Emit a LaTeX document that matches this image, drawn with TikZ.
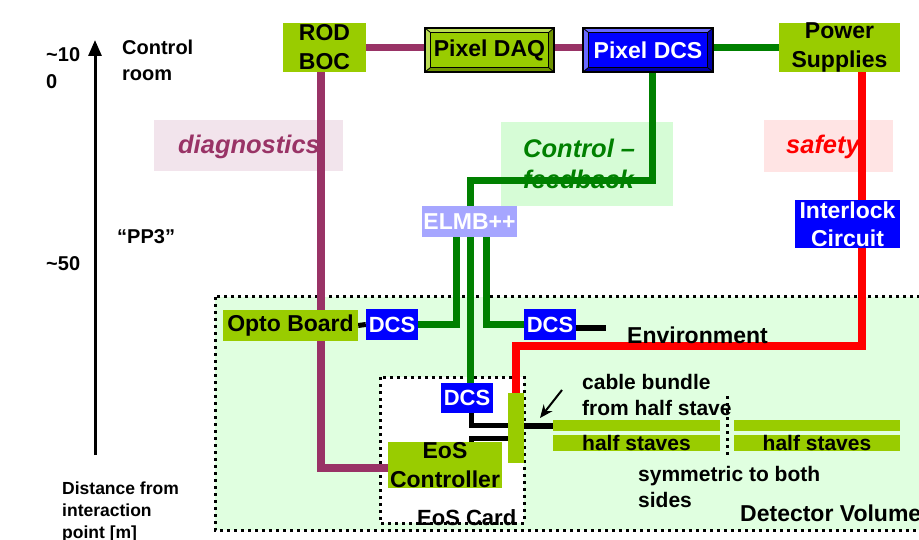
\documentclass[tikz,border=0pt]{standalone}
\usepackage{fontspec}
\setmainfont{Liberation Sans}
\usetikzlibrary{arrows.meta,calc}
\definecolor{boxgreen}{HTML}{99CC00}
\definecolor{dblue}{HTML}{0000FF}
\definecolor{purp}{HTML}{993366}
\definecolor{lgreen}{HTML}{008000}
\definecolor{volbg}{HTML}{E0FFE0}
\definecolor{ctrlbg}{HTML}{D6FCD6}
\definecolor{diagbg}{HTML}{F2E4EC}
\definecolor{safebg}{HTML}{FFE4E4}
\definecolor{elmbc}{HTML}{A6A6FF}
\definecolor{daqlight}{HTML}{BCDD55}
\definecolor{daqdark}{HTML}{6F9400}
\definecolor{dcslight}{HTML}{6A6AFF}
\definecolor{dcsdark}{HTML}{0000A8}
\newcommand\myfs[2]{\fontsize{#1}{#2}\selectfont\bfseries}
\newcommand\bevelbox[4]{%
  \fill[#2] (#1.north west) rectangle (#1.south east);
  \fill[#3] (#1.north west) -- (#1.south west) -- ([shift={(6pt,5pt)}]#1.south west) -- ([shift={(6pt,-5pt)}]#1.north west) -- cycle;
  \fill[#3] (#1.north west) -- (#1.north east) -- ([shift={(-6pt,-5pt)}]#1.north east) -- ([shift={(6pt,-5pt)}]#1.north west) -- cycle;
  \fill[#4] (#1.south west) -- (#1.south east) -- ([shift={(-6pt,5pt)}]#1.south east) -- ([shift={(6pt,5pt)}]#1.south west) -- cycle;
  \fill[#4] (#1.north east) -- (#1.south east) -- ([shift={(-6pt,5pt)}]#1.south east) -- ([shift={(-6pt,-5pt)}]#1.north east) -- cycle;
  \draw[line width=0.8pt,fill=#2] ([shift={(6pt,-5pt)}]#1.north west) rectangle ([shift={(-6pt,5pt)}]#1.south east);
  \draw[line width=0.8pt] (#1.north west) -- ([shift={(6pt,-5pt)}]#1.north west)
    (#1.north east) -- ([shift={(-6pt,-5pt)}]#1.north east)
    (#1.south west) -- ([shift={(6pt,5pt)}]#1.south west)
    (#1.south east) -- ([shift={(-6pt,5pt)}]#1.south east);
  \draw[line width=2pt] (#1.north west) rectangle (#1.south east);
}
\pgfdeclarelayer{bg}
\pgfdeclarelayer{lines}
\pgfsetlayers{bg,lines,main}
\begin{document}
\begin{tikzpicture}[x=1pt,y=-1pt,
  gbox/.style={fill=boxgreen,inner sep=0pt,align=center,text=black,font=\myfs{23}{29}},
  plainbox/.style={inner sep=0pt,align=center,font=\myfs{23}{29}},
  bbox/.style={fill=dblue,inner sep=0pt,align=center,text=white,font=\myfs{23}{28}},
  dcsbox/.style={fill=dblue,inner sep=0pt,text=white,font=\myfs{22}{26},minimum width=52pt,minimum height=31pt},
  lbl/.style={inner sep=0pt,align=center,font=\myfs{25.5}{31}\itshape},
  txt/.style={inner sep=0pt,align=left,font=\myfs{21}{26}},
  bar/.style={fill=boxgreen,inner sep=0pt,font=\myfs{21}{26}},
  pline/.style={draw=purp,line width=7.5pt},
  gline/.style={draw=lgreen,line width=7pt},
  rline/.style={draw=red,line width=8pt},
  kline/.style={draw=black,line width=5pt},
  dotbox/.style={draw=black,line width=3pt,dash pattern=on 3pt off 4pt}]
\useasboundingbox (0,0) rectangle (919,540);

% ---------- main boxes ----------
\node[gbox,minimum width=83pt,minimum height=49pt] (rod) at (324.5,47.5) {ROD\\BOC};
\node[plainbox,text=black,minimum width=129pt,minimum height=44pt] (daq) at (489.5,50) {Pixel DAQ};
\node[plainbox,text=white,minimum width=130pt,minimum height=44pt] (pdcs) at (648,50) {Pixel DCS};
\node[gbox,minimum width=121pt,minimum height=49pt] (power) at (839.5,47.5) {Power\\Supplies};
\node[bbox,minimum width=105pt,minimum height=48pt] (ilock) at (847.5,224) {Interlock\\Circuit};
\node[fill=elmbc,inner sep=0pt,text=white,font=\myfs{23}{28},minimum width=95pt,minimum height=31pt] (elmb) at (469.5,221.5) {ELMB++};
\node[gbox,minimum width=135pt,minimum height=31pt] (opto) at (290.5,325.5) {Opto Board};
\node[dcsbox] (dcsa) at (392,324.5) {DCS};
\node[dcsbox] (dcsb) at (550,324.5) {DCS};
\node[dcsbox,minimum height=30pt] (dcsc) at (467,398) {DCS};
\node[fill=boxgreen,inner sep=0pt,minimum width=16pt,minimum height=70pt] (blk) at (516,428) {};
\node[gbox,minimum width=114pt,minimum height=44pt] (eosc) at (445,465) {EoS\\Controller};
\node[bar,minimum width=167pt,minimum height=11pt] (s1) at (636.5,425.5) {};
\node[bar,minimum width=167pt,minimum height=12pt] (s2) at (636.5,443) {half staves};
\node[bar,minimum width=166pt,minimum height=11pt] (s3) at (817,425.5) {};
\node[bar,minimum width=166pt,minimum height=12pt] (s4) at (817,443) {half staves};

% ---------- free texts ----------
\node[inner sep=0pt,anchor=north west,align=left,font=\myfs{20}{27}] (t100) at (46,47) {\textasciitilde10\\0};
\node[inner sep=0pt,anchor=north west,align=left,font=\myfs{20}{26}] (tcr) at (122,40) {Control\\room};
\node[inner sep=0pt,anchor=west,font=\myfs{20}{26}] (tpp3) at (117,237) {“PP3”};
\node[inner sep=0pt,anchor=west,font=\myfs{20}{26}] (t50) at (46,264) {\textasciitilde50};
\node[inner sep=0pt,anchor=north west,align=left,font=\myfs{17.5}{22}] (tdist) at (62,482) {Distance from\\interaction\\point [m]};
\node[inner sep=0pt,anchor=west,font=\myfs{23}{28}] (tenv) at (627,335) {Environment};
\node[txt,anchor=north west] (tcable) at (582,374) {cable bundle\\from half stave};
\node[txt,anchor=north west] (tsym) at (638,466) {symmetric to both\\sides};
\node[inner sep=0pt,anchor=base west,font=\myfs{23}{28}] (tdet) at (740,521) {Detector Volume};
\node[inner sep=0pt,anchor=base west,font=\myfs{22}{28}] (tcard) at (417,525) {EoS Card};

% ---------- backgrounds ----------
\begin{pgfonlayer}{bg}
  \fill[volbg] (215,297) rectangle (926,530);
  \draw[dotbox] (215,297) rectangle (926,530);
  \fill[white] (380,377) rectangle (524,523);
  \draw[dotbox] (380,377) rectangle (524,523);
  \node[fill=diagbg,minimum width=189pt,minimum height=51pt,inner sep=0pt] (diagbox) at (248.5,145.5) {};
  \node[lbl,text=purp] (diag) at (249,147) {diagnostics};
  \node[fill=ctrlbg,minimum width=172pt,minimum height=84pt,inner sep=0pt] (ctrlbox) at (587,164) {};
  \node[lbl,text=lgreen,align=left,anchor=north west] (ctrl) at (523,139) {Control –\\feedback};
  \node[fill=safebg,minimum width=129pt,minimum height=52pt,inner sep=0pt] (safebox) at (828.5,146) {};
  \node[lbl,text=red] (safe) at (823,147) {safety};
\end{pgfonlayer}

% ---------- connectors ----------
\coordinate (fb) at (470,181);
\coordinate (rc) at (516,346);
\coordinate (envend) at (606,328);
\coordinate (arrs) at (562,390);
\coordinate (arre) at (540,418);
\coordinate (dvt) at (727,396);
\coordinate (dvb) at (727,455);
\coordinate (axb) at (95,455);
\coordinate (axt) at (95,40);
\begin{pgfonlayer}{lines}
  \draw[pline] (rod.east) -- (daq.west |- rod.east);
  \draw[pline] (daq.east |- rod.east) -- (pdcs.west |- rod.east);
  \draw[gline] (pdcs.east |- power.west) -- (power.west);
  \draw[pline] ([xshift=-3.5pt]rod.south) |- ([yshift=-3pt]eosc.west);
  \draw[gline] ([xshift=4pt]pdcs.south) |- (fb) -- (fb |- dcsc.north);
  \draw[gline] ([xshift=-13.5pt]elmb.south) |- (dcsa.east);
  \draw[gline] ([xshift=16.5pt]elmb.south) |- (dcsb.west);
  \draw[rline] ([xshift=22.5pt]power.south) |- (rc) -- (blk.north);
  \draw[kline] (opto.east) -- (dcsa.west);
  \draw[kline] (dcsb.east |- envend) -- (envend);
  \draw[kline] ([xshift=4pt]dcsc.south) |- ([yshift=3pt]blk.west);
  \draw[kline] ([xshift=26pt]eosc.north) |- ([yshift=-10pt]blk.west);
  \draw[kline,line width=6pt] (blk.east |- s1.west) -- (s1.west);
  \draw[line width=2pt,-{Stealth[length=13pt,width=11pt]}] (arrs) -- (arre);
  \draw[dotbox] (dvt) -- (dvb);
  \draw[line width=3pt,-{Triangle[length=16pt,width=13pt]}] (axb) -- (axt);
  \bevelbox{daq}{boxgreen}{daqlight}{daqdark}
  \bevelbox{pdcs}{dblue}{dcslight}{dcsdark}
\end{pgfonlayer}
\end{tikzpicture}
\end{document}
